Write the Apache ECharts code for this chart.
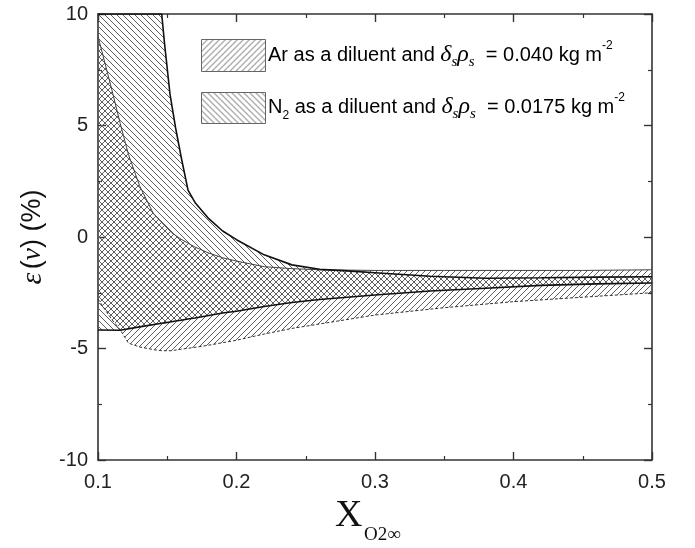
<!DOCTYPE html>
<html><head><meta charset="utf-8">
<script src="https://cdn.jsdelivr.net/npm/echarts@6/dist/echarts.min.js"></script>
<style>html,body{margin:0;padding:0;background:#fff}#c{width:695px;height:548px}</style>
</head><body><div id="c"></div>
<script>
// Ar as diluent (delta_s rho_s = 0.040 kg m-2) band
const arX     = [0.1, 0.105, 0.11, 0.116, 0.122, 0.13, 0.14, 0.146, 0.153, 0.16, 0.17, 0.18, 0.19, 0.2, 0.22, 0.24, 0.26, 0.3, 0.35, 0.4, 0.45, 0.5];
const arUpper = [9.0, 7.8, 6.6, 5.1, 3.7, 2.3, 1.05, 0.65, 0.2, -0.1, -0.45, -0.72, -0.93, -1.08, -1.33, -1.42, -1.47, -1.5, -1.5, -1.5, -1.5, -1.47];
const arLower = [-2.78, -3.25, -3.7, -4.16, -4.76, -4.93, -5.05, -5.1, -5.1, -5.03, -4.95, -4.85, -4.74, -4.63, -4.35, -4.1, -3.9, -3.5, -3.17, -2.9, -2.7, -2.5];
// N2 as diluent (delta_s rho_s = 0.0175 kg m-2) band
const n2X     = [0.1, 0.116, 0.13, 0.146, 0.148, 0.152, 0.156, 0.16, 0.165, 0.17, 0.18, 0.19, 0.2, 0.22, 0.24, 0.26, 0.28, 0.3, 0.34, 0.38, 0.42, 0.46, 0.5];
const n2Upper = [10, 10, 10, 10, 8.7, 6.4, 4.9, 3.6, 2.1, 1.55, 0.82, 0.27, -0.12, -0.8, -1.25, -1.45, -1.52, -1.6, -1.76, -1.85, -1.83, -1.8, -1.78];
const n2Lower = [-4.17, -4.18, -4.03, -3.87, -3.85, -3.81, -3.77, -3.73, -3.68, -3.63, -3.52, -3.41, -3.33, -3.12, -2.94, -2.8, -2.7, -2.6, -2.42, -2.3, -2.17, -2.1, -2.06];
const xTickLabels = ['0.1', '0.2', '0.3', '0.4', '0.5'];
const yTickLabels = ['-10', '-5', '0', '5', '10'];

function hatch(forward) {
  const s = 6;
  const c = document.createElement('canvas');
  c.width = s; c.height = s;
  const g = c.getContext('2d');
  g.strokeStyle = '#5e5e5e';
  g.lineWidth = 1;
  g.beginPath();
  if (forward) {
    g.moveTo(-1, s + 1); g.lineTo(s + 1, -1);
    g.moveTo(-1, 1); g.lineTo(1, -1);
    g.moveTo(s - 1, s + 1); g.lineTo(s + 1, s - 1);
  } else {
    g.moveTo(-1, -1); g.lineTo(s + 1, s + 1);
    g.moveTo(s - 1, -1); g.lineTo(s + 1, 1);
    g.moveTo(-1, s - 1); g.lineTo(1, s + 1);
  }
  g.stroke();
  return c;
}
const patAr = { image: hatch(true), repeat: 'repeat' };
const patN2 = { image: hatch(false), repeat: 'repeat' };

const pairs = (xs, ys) => xs.map((x, i) => [x, ys[i]]);

function band(name, xs, up, lo, pat) {
  return {
    type: 'custom', name: name, coordinateSystem: 'cartesian2d', clip: true, silent: true, z: 1,
    data: [[xs[0], up[0]]],
    renderItem: function (params, api) {
      const top = xs.map((x, i) => api.coord([x, up[i]]));
      const bot = xs.map((x, i) => api.coord([x, lo[i]])).reverse();
      return { type: 'polygon', shape: { points: top.concat(bot) }, style: { fill: pat, stroke: null } };
    }
  };
}
function edge(xs, ys, color, width, type) {
  return {
    type: 'line', data: pairs(xs, ys), symbol: 'none', z: 3, silent: true,
    lineStyle: { color: color, width: width, type: type || 'solid' }
  };
}

const axisCommon = {
  axisLine: { show: true, onZero: false, lineStyle: { color: '#333', width: 1.6 } },
  axisTick: { show: true, inside: true, length: 8, lineStyle: { color: '#333', width: 1.4 } },
  minorTick: { show: true, splitNumber: 2, length: 4, lineStyle: { color: '#333', width: 1.2 } },
  splitLine: { show: false }
};
const labelFont = { fontFamily: 'Liberation Sans', fontSize: 20, color: '#222' };

const legendRich = {
  t: { fontFamily: 'Liberation Sans', fontSize: 20, color: '#111', lineHeight: 30, verticalAlign: 'middle' },
  g: { fontFamily: 'Liberation Serif', fontStyle: 'italic', fontSize: 24, color: '#111', lineHeight: 30, verticalAlign: 'middle' },
  s: { fontFamily: 'Liberation Serif', fontStyle: 'italic', fontSize: 15, color: '#111', lineHeight: 14, verticalAlign: 'bottom' },
  s2: { fontFamily: 'Liberation Sans', fontSize: 12, color: '#111', lineHeight: 12, verticalAlign: 'bottom' },
  u: { fontFamily: 'Liberation Sans', fontSize: 12, color: '#111', lineHeight: 12, verticalAlign: 'top' }
};

const chart = echarts.init(document.getElementById('c'));
chart.setOption({
  animation: false,
  backgroundColor: '#fff',
  grid: { left: 98, right: 43, top: 14, bottom: 88 },
  xAxis: [
    Object.assign({ type: 'value', min: 0.1, max: 0.5, interval: 0.1, position: 'bottom',
      axisLabel: Object.assign({ margin: 12, formatter: v => xTickLabels[Math.round((v - 0.1) / 0.1)] }, labelFont) }, axisCommon),
    Object.assign({ type: 'value', min: 0.1, max: 0.5, interval: 0.1, position: 'top',
      axisLabel: { show: false } }, axisCommon)
  ],
  yAxis: [
    Object.assign({ type: 'value', min: -10, max: 10, interval: 5, position: 'left',
      axisLabel: Object.assign({ margin: 10, formatter: v => yTickLabels[Math.round((v + 10) / 5)] }, labelFont),
      name: '{e|ε} {p|(}{n|ν}{p|) (%)}', nameLocation: 'middle', nameRotate: 90, nameGap: 50,
      nameTextStyle: { rich: {
        e: { fontFamily: 'Liberation Serif', fontStyle: 'italic', fontSize: 30, color: '#111' },
        n: { fontFamily: 'Liberation Serif', fontStyle: 'italic', fontSize: 28, color: '#111' },
        p: { fontFamily: 'Liberation Sans', fontSize: 27, color: '#111' }
      } } }, axisCommon),
    Object.assign({ type: 'value', min: -10, max: 10, interval: 5, position: 'right',
      axisLabel: { show: false } }, axisCommon)
  ],
  series: [
    band('Ar', arX, arUpper, arLower, patAr),
    band('N2', n2X, n2Upper, n2Lower, patN2),
    edge(arX, arUpper, '#444', 1),
    edge(arX, arLower, '#333', 1, [3, 2]),
    edge(n2X, n2Upper, '#111', 1.6),
    edge(n2X, n2Lower, '#111', 1.6)
  ],
  graphic: [
    { type: 'rect', left: 201, top: 39, shape: { width: 64, height: 32 }, style: { fill: patAr, stroke: '#666', lineWidth: 1 } },
    { type: 'rect', left: 201, top: 92, shape: { width: 64, height: 31 }, style: { fill: patN2, stroke: '#666', lineWidth: 1 } },
    { type: 'text', left: 268, top: 40, style: {
      text: '{t|Ar as a diluent and }{g|δ}{s|s}{g|ρ}{s|s}{t|  = 0.040 kg m}{u|-2}', rich: legendRich } },
    { type: 'text', left: 268, top: 92, style: {
      text: '{t|N}{s2|2}{t| as a diluent and }{g|δ}{s|s}{g|ρ}{s|s}{t|  = 0.0175 kg m}{u|-2}', rich: legendRich } },
    { type: 'text', left: 335, top: 497, style: { text: 'X', fontFamily: 'Liberation Serif', fontSize: 38, fill: '#111' } },
    { type: 'text', left: 364, top: 526, style: { text: 'O2∞', fontFamily: 'Liberation Serif', fontSize: 19, fill: '#111' } }
  ]
});
</script>
</body></html>
